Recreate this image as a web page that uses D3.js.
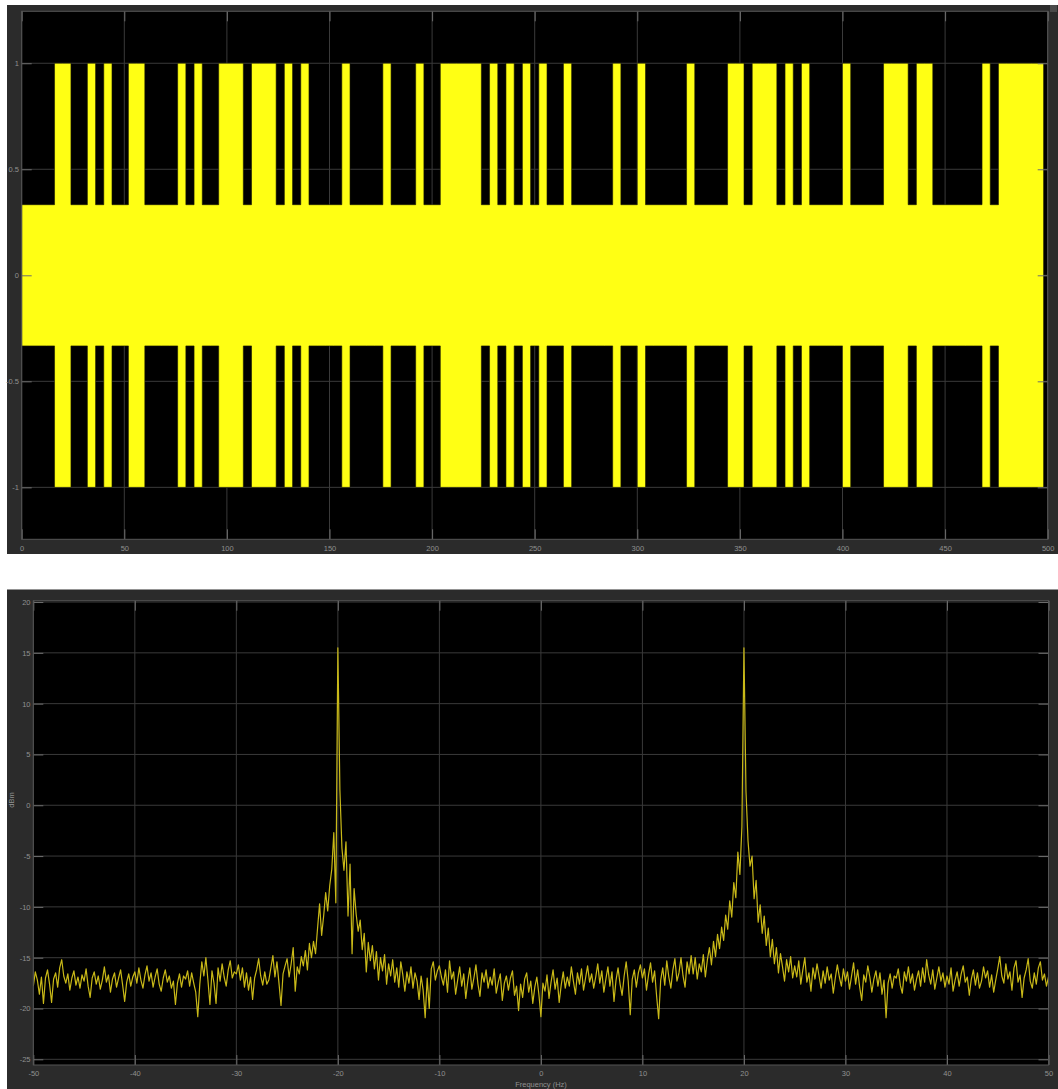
<!DOCTYPE html>
<html>
<head>
<meta charset="utf-8">
<script src="https://cdnjs.cloudflare.com/ajax/libs/d3/7.8.5/d3.min.js"></script>
<style>
  html, body { margin: 0; padding: 0; background: #fff; }
  svg { display: block; font-family: "Liberation Sans", Arial, sans-serif; }
</style>
</head>
<body>
<svg id="scope" width="1058" height="1089"></svg>
<script>
// ---- time signal: one bit every 4 s, full swing for a "1", a third for a "0"
var bitPeriod = 4;
var signalEnd = 498;
var highLevel = 1;
var lowLevel = 0.333;
var bits = [
    0,0,0,0,1,1,0,0,1,0,1,0,0,1,1,0,0,0,0,1,0,1,0,0,1,
    1,1,0,1,1,1,0,1,0,1,0,0,0,0,1,0,0,0,0,1,0,0,0,1,0,
    0,1,1,1,1,1,0,1,0,1,0,1,0,1,0,0,1,0,0,0,0,0,1,0,0,
    1,0,0,0,0,0,1,0,0,0,0,1,1,0,1,1,1,0,1,0,1,0,0,0,0,
    1,0,0,0,0,1,1,1,0,1,1,0,0,0,0,0,0,1,0,1,1,1,1,1,1
];
var timeTicks = [0, 50, 100, 150, 200, 250, 300, 350, 400, 450, 500];
var ampTicks = [-1, -0.5, 0, 0.5, 1];

// ---- spectrum, one value every 0.2 Hz from -50 Hz
var freqStart = -50;
var binHz = 0.2;
var powerDbm = [
    -17.8,-16.4,-17.2,-18.6,-16.9,-19.5,-17.0,-16.2,-17.6,-19.4,-17.1,-16.5,-17.9,-16.0,-15.2,-16.8,-17.5,-16.6,-18.2,-17.0,-16.3,-17.7,-16.9,-18.0,-16.7,
    -17.3,-16.1,-17.8,-18.9,-17.0,-16.4,-17.6,-16.8,-18.1,-17.2,-15.9,-17.4,-16.7,-18.4,-17.1,-16.5,-17.9,-17.0,-16.2,-17.7,-19.3,-17.4,-16.6,-17.8,-16.9,
    -16.4,-17.5,-16.0,-17.2,-18.0,-16.7,-15.8,-17.3,-16.5,-17.9,-16.9,-16.1,-17.6,-18.3,-17.0,-16.2,-17.4,-16.8,-18.0,-17.3,-19.6,-17.5,-16.6,-17.9,-16.8,
    -17.1,-16.3,-17.8,-16.5,-17.5,-18.4,-20.8,-17.6,-15.4,-16.8,-15.0,-17.2,-19.6,-16.3,-17.5,-19.5,-16.0,-17.3,-15.6,-16.9,-17.8,-16.2,-15.3,-17.0,-16.4,
    -16.6,-15.7,-17.2,-16.0,-17.9,-16.5,-18.2,-16.9,-19.1,-17.0,-16.2,-15.1,-16.8,-17.7,-16.4,-17.6,-17.2,-16.0,-14.8,-16.9,-15.4,-17.5,-19.7,-16.6,-15.8,
    -15.1,-16.9,-15.6,-14.0,-18.3,-15.9,-16.6,-14.9,-15.8,-14.3,-16.2,-13.6,-15.0,-13.4,-14.6,-12.1,-9.7,-12.8,-10.9,-8.6,-10.4,-7.9,-6.3,-2.7,-9.6,
    15.5,1.5,-4.2,-6.4,-3.6,-10.9,-5.8,-14.6,-8.2,-10.7,-12.4,-11.3,-14.2,-12.6,-16.4,-13.5,-15.3,-13.8,-16.1,-14.4,-17.2,-15.0,-16.3,-14.7,-17.6,
    -15.6,-16.8,-15.2,-17.4,-16.0,-17.9,-15.4,-16.7,-18.3,-16.4,-17.5,-15.9,-18.0,-16.5,-17.3,-19.1,-16.8,-18.2,-20.9,-17.0,-20.0,-16.1,-15.4,-17.2,-16.3,
    -15.8,-16.9,-17.7,-16.2,-18.4,-15.3,-17.1,-16.4,-18.6,-17.2,-15.9,-17.8,-16.6,-19.0,-17.3,-16.0,-18.1,-17.0,-15.7,-17.6,-18.8,-16.5,-17.4,-16.2,-18.0,
    -16.9,-17.7,-16.1,-18.5,-17.4,-16.6,-19.2,-17.5,-16.8,-18.2,-17.0,-16.3,-18.7,-17.8,-20.2,-17.6,-18.9,-17.1,-16.5,-18.4,-17.3,-19.5,-17.9,-16.9,-18.6,
    -20.8,-17.5,-18.3,-16.7,-19.0,-17.4,-16.2,-18.1,-17.0,-19.4,-17.7,-16.4,-18.0,-16.9,-17.8,-15.9,-17.3,-18.6,-16.5,-17.6,-16.1,-18.2,-17.0,-15.8,-17.4,
    -16.6,-18.0,-16.9,-15.6,-17.5,-16.3,-18.4,-17.1,-15.9,-17.8,-16.4,-19.3,-17.2,-16.0,-17.6,-18.7,-16.8,-15.4,-17.3,-20.6,-17.1,-16.2,-17.9,-16.5,-15.7,
    -17.0,-16.1,-18.2,-16.7,-15.5,-17.4,-16.3,-18.8,-21.0,-17.2,-16.0,-17.7,-15.3,-16.9,-18.0,-16.2,-15.1,-17.3,-16.5,-15.0,-16.8,-17.9,-15.4,-16.6,-14.8,
    -16.6,-15.0,-17.1,-15.6,-16.4,-14.7,-16.9,-15.2,-14.0,-15.7,-13.4,-14.9,-12.7,-14.1,-12.0,-13.3,-10.8,-12.2,-9.4,-11.0,-7.6,-9.1,-4.6,-6.8,-2.1,
    15.5,1.4,-3.5,-6.0,-5.0,-9.2,-7.4,-11.5,-9.8,-12.6,-10.9,-13.8,-12.1,-14.9,-13.2,-15.6,-14.0,-16.5,-14.6,-15.9,-17.3,-15.2,-16.4,-14.9,-17.0,
    -15.8,-16.9,-15.3,-17.6,-16.2,-15.0,-17.4,-16.5,-18.3,-16.0,-17.1,-15.6,-16.8,-18.0,-16.3,-17.5,-15.9,-17.2,-16.6,-18.5,-17.0,-15.7,-16.9,-17.8,-16.1,
    -17.3,-16.4,-18.1,-16.8,-15.5,-17.6,-16.2,-17.9,-19.2,-16.7,-17.4,-15.8,-16.9,-18.4,-17.1,-16.3,-17.8,-16.5,-18.6,-17.2,-20.9,-17.5,-16.6,-18.0,-16.8,
    -17.0,-16.1,-17.7,-18.5,-16.4,-17.3,-15.9,-17.5,-16.6,-18.2,-17.1,-16.3,-17.8,-16.0,-17.4,-15.2,-16.7,-17.6,-16.2,-18.1,-17.0,-15.9,-17.3,-16.5,-17.9,
    -16.8,-17.6,-16.0,-18.3,-17.2,-16.4,-17.8,-16.6,-15.8,-17.4,-16.9,-18.7,-17.1,-16.2,-17.7,-16.5,-18.0,-17.3,-15.9,-17.0,-16.3,-17.9,-16.7,-18.4,-17.2,
    -16.1,-14.9,-16.8,-17.5,-15.6,-17.1,-16.4,-18.2,-16.0,-15.3,-17.4,-16.7,-18.9,-17.0,-16.2,-15.1,-17.3,-18.0,-16.5,-17.6,-16.0,-15.4,-17.2,-16.6,-17.8,
    -16.9
];
var freqTicks = [-50, -40, -30, -20, -10, 0, 10, 20, 30, 40, 50];
var dbTicks = [-25, -20, -15, -10, -5, 0, 5, 10, 15, 20];

var svg = d3.select("#scope");

var frameColor = "#2b2b2b",
    gridColor = "#3a3a3a",
    tickColor = "#6e6e6e",
    boxColor = "#555555",
    labelColor = "#909090",
    fontPx = 7.5;

/**
 * black plot area plus the grid under the data
 */
function drawAxes(g, x, y, xTicks, yTicks) {
    var x0 = x.range()[0], x1 = x.range()[1],
        y0 = y.range()[0], y1 = y.range()[1];

    g.append("rect").attr("x", x0).attr("y", y1)
        .attr("width", x1 - x0).attr("height", y0 - y1)
        .attr("fill", "#000");

    g.append("g").selectAll("line").data(xTicks).enter().append("line")
        .attr("x1", function (d) { return x(d); })
        .attr("x2", function (d) { return x(d); })
        .attr("y1", y1).attr("y2", y0)
        .attr("stroke", gridColor).attr("stroke-width", 1);
    g.append("g").selectAll("line").data(yTicks).enter().append("line")
        .attr("x1", x0).attr("x2", x1)
        .attr("y1", function (d) { return y(d); })
        .attr("y2", function (d) { return y(d); })
        .attr("stroke", gridColor).attr("stroke-width", 1);
}

/**
 * inner ticks on all four sides, box and tick labels
 * yLabelX = right end of y labels, xLabelBase = baseline of x labels
 */
function drawTicks(g, x, y, xTicks, yTicks, yLabelX, xLabelBase) {
    var x0 = x.range()[0], x1 = x.range()[1],
        y0 = y.range()[0], y1 = y.range()[1];

    var fmt = function (d) { return String(d); };

    var left = g.append("g").attr("transform", "translate(" + x0 + ",0)")
        .call(d3.axisLeft(y).tickValues(yTicks).tickSize(-10).tickPadding(x0 - yLabelX).tickFormat(fmt));
    var right = g.append("g").attr("transform", "translate(" + x1 + ",0)")
        .call(d3.axisRight(y).tickValues(yTicks).tickSize(-10).tickFormat(""));
    var bottom = g.append("g").attr("transform", "translate(0," + y0 + ")")
        .call(d3.axisBottom(x).tickValues(xTicks).tickSize(-10).tickFormat(fmt));
    var top = g.append("g").attr("transform", "translate(0," + y1 + ")")
        .call(d3.axisTop(x).tickValues(xTicks).tickSize(-10).tickFormat(""));

    [left, right, bottom, top].forEach(function (a) {
        a.select(".domain").remove();
        a.selectAll("line").attr("stroke", tickColor);
        a.selectAll("text").attr("fill", labelColor).style("font-size", fontPx + "px");
    });
    bottom.selectAll("text").attr("y", xLabelBase - y0).attr("dy", null);

    g.append("rect").attr("x", x0).attr("y", y1)
        .attr("width", x1 - x0).attr("height", y0 - y1)
        .attr("fill", "none").attr("stroke", boxColor).attr("stroke-width", 1);
}

// ---------------- top panel: time signal
svg.append("rect").attr("x", 7).attr("y", 5).attr("width", 1051).attr("height", 549).attr("fill", frameColor);
svg.append("rect").attr("x", 1050).attr("y", 5).attr("width", 7).attr("height", 7).attr("fill", "#4a4a4a");

var xt = d3.scaleLinear().domain([0, 500]).range([21.7, 1047.7]);
var yt = d3.scaleLinear().domain([-1.245, 1.245]).range([539.3, 11.3]);

var topPanel = svg.append("g");
drawAxes(topPanel, xt, yt, timeTicks, ampTicks);

var envelope = bits.map(function (b, i) {
    return { t: i * bitPeriod, a: b ? highLevel : lowLevel };
});
envelope.push({ t: signalEnd, a: envelope[envelope.length - 1].a });

var band = d3.area()
    .curve(d3.curveStepAfter)
    .x(function (d) { return xt(Math.min(d.t, signalEnd)); })
    .y0(function (d) { return yt(-d.a); })
    .y1(function (d) { return yt(d.a); });

topPanel.append("path")
    .attr("d", band(envelope))
    .attr("fill", "#ffff14")
    .attr("stroke", "#1a1a00")
    .attr("stroke-width", 0.6);

drawTicks(topPanel, xt, yt, timeTicks, ampTicks, 19, 551);

// ---------------- bottom panel: spectrum
svg.append("rect").attr("x", 7).attr("y", 589.5).attr("width", 1051).attr("height", 500).attr("fill", frameColor);

var xf = d3.scaleLinear().domain([-50, 50]).range([33.3, 1048.5]);
var yf = d3.scaleLinear().domain([-25.56, 20.13]).range([1065, 600.7]);

var bottomPanel = svg.append("g");
drawAxes(bottomPanel, xf, yf, freqTicks, dbTicks);

svg.append("clipPath").attr("id", "specClip").append("rect")
    .attr("x", 33.3).attr("y", 600.7).attr("width", 1048.5 - 33.3).attr("height", 1065 - 600.7);

var specLine = d3.line()
    .x(function (d, i) { return xf(freqStart + i * binHz); })
    .y(function (d) { return yf(d); });

bottomPanel.append("path")
    .attr("d", specLine(powerDbm))
    .attr("clip-path", "url(#specClip)")
    .attr("fill", "none")
    .attr("stroke", "#c9b918")
    .attr("stroke-width", 1.2)
    .attr("stroke-linejoin", "round");

drawTicks(bottomPanel, xf, yf, freqTicks, dbTicks, 30.5, 1076);

bottomPanel.append("text")
    .text("Frequency (Hz)")
    .attr("x", 541).attr("y", 1086.5)
    .attr("fill", labelColor)
    .style("font-size", fontPx + "px")
    .style("text-anchor", "middle");

bottomPanel.append("text")
    .text("dBm")
    .attr("transform", "translate(14,800) rotate(-90)")
    .attr("fill", labelColor)
    .style("font-size", fontPx + "px")
    .style("text-anchor", "middle");
</script>
</body>
</html>
